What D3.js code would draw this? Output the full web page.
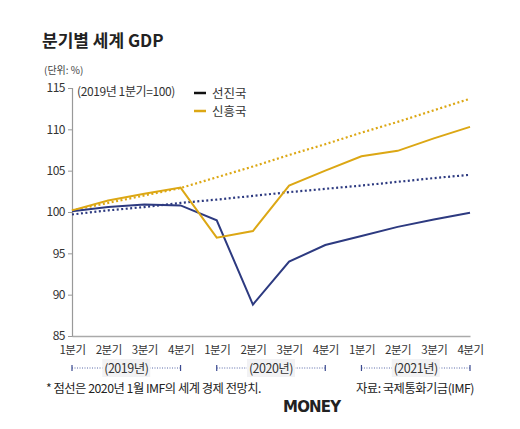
<!DOCTYPE html>
<html><head><meta charset="utf-8">
<script src="https://cdn.jsdelivr.net/npm/d3@7"></script>
<style>body{margin:0;background:#fff}svg{display:block}</style>
</head><body>
<svg id="c" width="520" height="429"></svg>
<script>
const quarters = ["1분기","2분기","3분기","4분기","1분기","2분기","3분기","4분기","1분기","2분기","3분기","4분기"];
const years = ["(2019년)","(2020년)","(2021년)"];
const yTicks = [85,90,95,100,105,110,115];
const advanced = [100.1,100.6,100.9,100.8,99.0,88.8,94.0,96.0,97.1,98.2,99.1,99.9];
const emerging = [100.2,101.4,102.2,102.95,96.9,97.7,103.2,105.0,106.75,107.4,108.9,110.3];
const advancedForecast = [99.7,100.2,100.6,101.1,101.5,101.95,102.4,102.8,103.2,103.65,104.1,104.5];
const emergingForecast = [100.2,101.1,102.0,102.9,104.2,105.5,106.9,108.2,109.6,110.9,112.3,113.7];
const seriesNames = ["선진국","신흥국"];

const NAVY = "#2d3a80", GOLD = "#dca714", FONT = "'Noto Sans CJK KR','Noto Sans',sans-serif";
const svg = d3.select("#c");
const x = d3.scaleLinear().domain([0,11]).range([72,470]);
const y = d3.scaleLinear().domain([85,115]).range([336,88]);

svg.append("text").attr("x",42).attr("y",47).attr("font-family",FONT).attr("font-weight",700)
  .attr("font-size",17).attr("fill","#222").text("분기별 세계 GDP");
svg.append("text").attr("x",44).attr("y",74).attr("font-family",FONT).attr("font-size",10)
  .attr("fill","#444").text("(단위: %)");
svg.append("text").attr("x",77).attr("y",96).attr("font-family",FONT).attr("font-size",12)
  .attr("fill","#333").attr("letter-spacing",-0.4).text("(2019년 1분기=100)");

// y axis
const yAxis = svg.append("g").attr("transform","translate(72,0)")
  .call(d3.axisLeft(y).tickValues(yTicks).tickSize(4).tickPadding(3));
yAxis.select(".domain").attr("stroke","#999").attr("stroke-width",1.2);
yAxis.selectAll(".tick line").attr("stroke","#999");
yAxis.selectAll("text").attr("font-family",FONT).attr("font-size",12).attr("fill","#333").attr("letter-spacing",-0.5);
// x axis
const xAxis = svg.append("g").attr("transform","translate(0,336)")
  .call(d3.axisBottom(x).ticks(12).tickFormat(d=>quarters[d]).tickSize(0).tickPadding(10));
xAxis.select(".domain").attr("stroke","#aaa").attr("stroke-width",1.5);
xAxis.selectAll("text").attr("font-family",FONT).attr("font-size",11.5).attr("fill","#333").attr("letter-spacing",-0.5);

// year brackets
years.forEach((lab,i)=>{
  const x0 = x(i*4), x1 = x(i*4+3), cx=(x0+x1)/2, yy=368;
  const g = svg.append("g");
  g.append("line").attr("x1",x0).attr("x2",x1).attr("y1",yy).attr("y2",yy)
    .attr("stroke","#5a6aa8").attr("stroke-width",1).attr("stroke-dasharray","1,1.5");
  [x0,x1].forEach(xx=>g.append("line").attr("x1",xx).attr("x2",xx).attr("y1",yy-3).attr("y2",yy+3).attr("stroke","#3b4a90").attr("stroke-width",1.2));
  g.append("rect").attr("x",cx-24).attr("y",yy-9).attr("width",48).attr("height",18).attr("fill","#f2f2f4");
  g.append("text").attr("x",cx).attr("y",yy+4.5).attr("text-anchor","middle").attr("font-family",FONT)
    .attr("font-size",12.5).attr("fill","#333").attr("letter-spacing",-0.5).text(lab);
});

const line = d3.line().x((d,i)=>x(i)).y(d=>y(d));
svg.append("path").datum(advancedForecast).attr("d",line).attr("fill","none").attr("stroke",NAVY)
  .attr("stroke-width",2.2).attr("stroke-dasharray","2,2.5");
svg.append("path").datum(emergingForecast).attr("d",line).attr("fill","none").attr("stroke",GOLD)
  .attr("stroke-width",2.2).attr("stroke-dasharray","2,2.5");
svg.append("path").datum(advanced).attr("d",line).attr("fill","none").attr("stroke",NAVY).attr("stroke-width",2);
svg.append("path").datum(emerging).attr("d",line).attr("fill","none").attr("stroke",GOLD).attr("stroke-width",2);

// legend
["#111", GOLD].forEach((c,i)=>{
  const yy = 93 + i*18;
  svg.append("line").attr("x1",194).attr("x2",206).attr("y1",yy).attr("y2",yy)
    .attr("stroke", c).attr("stroke-width",2.5);
  svg.append("text").attr("x",212).attr("y",yy+4.5).attr("font-family",FONT).attr("font-size",12.5)
    .attr("fill","#333").text(seriesNames[i]);
});

svg.append("text").attr("x",46).attr("y",393).attr("font-family",FONT).attr("font-size",12.3)
  .attr("fill","#222").attr("letter-spacing",-0.5).text("* 점선은 2020년 1월 IMF의 세계 경제 전망치.");
svg.append("text").attr("x",356).attr("y",393).attr("font-family",FONT).attr("font-size",12.3)
  .attr("fill","#222").attr("letter-spacing",-0.5).text("자료: 국제통화기금(IMF)");
svg.append("text").attr("x",283).attr("y",412).attr("font-family","'DejaVu Sans',sans-serif").attr("font-weight",900)
  .attr("font-size",15).attr("fill","#222").attr("letter-spacing",-0.8).text("MONEY");
</script>
</body></html>
